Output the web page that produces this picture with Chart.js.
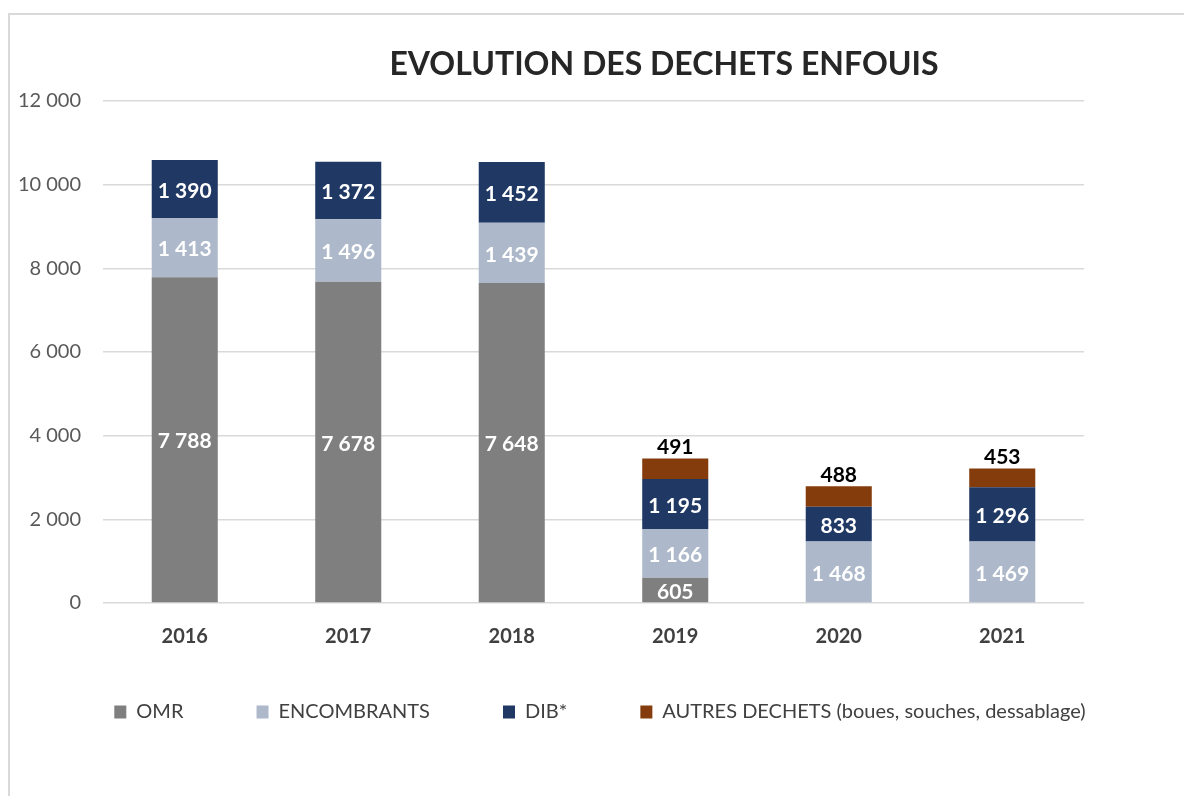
<!DOCTYPE html>
<html lang="fr">
<head>
  <meta charset="UTF-8">
  <title>Evolution des dechets enfouis</title>
  <script src="https://cdn.jsdelivr.net/npm/chart.js@4/dist/chart.umd.min.js"></script>
  <style>
    html, body { margin: 0; padding: 0; background: #fff; overflow: hidden; }
    #frame { position: absolute; left: 8px; top: 13px; width: 1400px; height: 1000px; border: 2px solid #d9d9d9; box-sizing: border-box; }
    #wrap { position: absolute; left: 0; top: 0; width: 1184px; height: 796px; }
  </style>
</head>
<body>
  <div id="frame"></div>
  <div id="wrap"><canvas id="mychart"></canvas></div>

  <script type="text/javascript">
    const years = ['2016', '2017', '2018', '2019', '2020', '2021'];
    const omr = [7788, 7678, 7648, 605, null, null];
    const encombrants = [1413, 1496, 1439, 1166, 1468, 1469];
    const dib = [1390, 1372, 1452, 1195, 833, 1296];
    const autres = [null, null, null, 491, 488, 453];
    const titleText = 'EVOLUTION DES DECHETS ENFOUIS';

    // 12 000 style numbers
    function fmt(v) {
      return String(v).replace(/\B(?=(\d{3})+(?!\d))/g, ' ');
    }

    const titlePlugin = {
      id: 'bigTitle',
      afterDraw(chart) {
        const ctx = chart.ctx;
        ctx.save();
        ctx.font = 'bold 32px Lato';
        ctx.fillStyle = '#262626';
        ctx.textAlign = 'center';
        ctx.textBaseline = 'alphabetic';
        ctx.fillText(titleText, 664, 75);
        ctx.restore();
      }
    };

    const valueLabels = {
      id: 'valueLabels',
      afterDatasetsDraw(chart) {
        const ctx = chart.ctx;
        ctx.save();
        ctx.font = 'bold 21px Lato';
        ctx.textAlign = 'center';
        chart.data.datasets.forEach((ds, i) => {
          const meta = chart.getDatasetMeta(i);
          meta.data.forEach((bar, j) => {
            const v = ds.data[j];
            if (v == null) return;
            if (ds.labelOutside) {
              ctx.fillStyle = '#000000';
              ctx.textBaseline = 'bottom';
              ctx.fillText(fmt(v), bar.x, bar.y - 1);
            } else {
              ctx.fillStyle = '#ffffff';
              ctx.textBaseline = 'middle';
              ctx.fillText(fmt(v), bar.x, (bar.y + bar.base) / 2 + 2);
            }
          });
        });
        ctx.restore();
      }
    };

    const data = {
      labels: years,
      datasets: [
        { label: 'OMR', data: omr, backgroundColor: '#7f7f7f' },
        { label: 'ENCOMBRANTS', data: encombrants, backgroundColor: '#adb9ca' },
        { label: 'DIB*', data: dib, backgroundColor: '#203864' },
        { label: 'AUTRES DECHETS (boues, souches, dessablage)', data: autres, backgroundColor: '#843c0c', labelOutside: true }
      ]
    };

    const config = {
      type: 'bar',
      data: data,
      plugins: [titlePlugin, valueLabels],
      options: {
        responsive: true,
        maintainAspectRatio: false,
        animation: false,
        datasets: {
          bar: { categoryPercentage: 1, barPercentage: 0.404 }
        },
        layout: { padding: { left: 16, top: 101, right: 0, bottom: 64 } },
        scales: {
          x: {
            stacked: true,
            grid: { display: false, drawTicks: false },
            border: { display: false },
            ticks: { color: '#404040', font: { family: 'Lato', size: 20, weight: 'bold' }, padding: 22 },
            afterFit(scale) { scale.height = 46; }
          },
          y: {
            stacked: true,
            min: 0,
            max: 12000,
            grid: { color: '#d9d9d9', lineWidth: 1.5, drawTicks: false },
            border: { display: false },
            ticks: {
              stepSize: 2000,
              color: '#595959',
              font: { family: 'Lato', size: 20 },
              padding: 22,
              callback: (v) => fmt(v)
            },
            afterFit(scale) { scale.width = 87; }
          },
          // empty right margin so the legend can span the whole width
          yRight: {
            position: 'right',
            display: true,
            grid: { display: false, drawTicks: false },
            border: { display: false },
            ticks: { display: false },
            afterFit(scale) { scale.width = 100; }
          }
        },
        plugins: {
          title: { display: false },
          tooltip: { enabled: false },
          legend: {
            position: 'bottom',
            labels: {
              color: '#404040',
              font: { family: 'Lato', size: 20 },
              boxWidth: 12,
              boxHeight: 13,
              padding: 53,
              // widen the gap between items without pushing the row down
              generateLabels(chart) {
                const items = Chart.defaults.plugins.legend.labels.generateLabels(chart);
                items.forEach((item, i) => {
                  if (i < items.length - 1) item.text += '\u2003 ';
                });
                return items;
              }
            }
          }
        }
      }
    };

    new Chart(document.getElementById('mychart'), config);
  </script>
</body>
</html>
